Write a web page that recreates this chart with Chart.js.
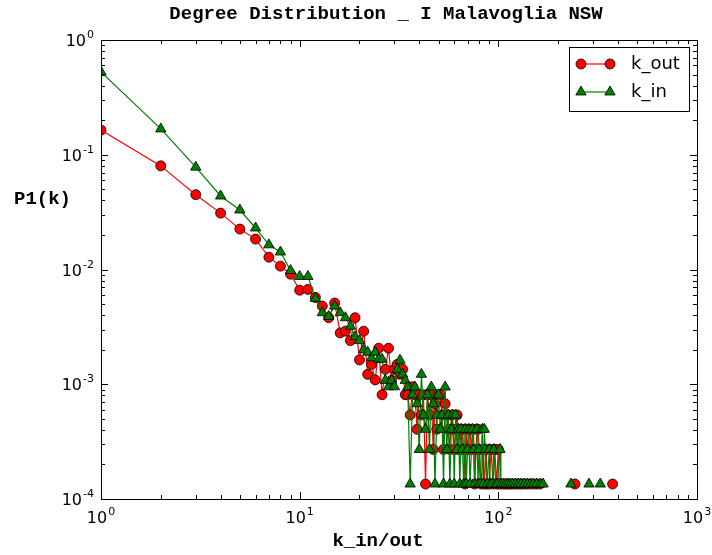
<!DOCTYPE html>
<html>
<head>
<meta charset="utf-8">
<script src="https://cdn.jsdelivr.net/npm/chart.js@4.4.1/dist/chart.umd.min.js"></script>
<style>
  html, body { margin: 0; padding: 0; background: #fff; }
  canvas { display: block; }
</style>
</head>
<body>
<canvas id="degChart" width="712" height="555"></canvas>
<script>
// degree k and P1(k) for out-degree (red circles)
const kOut = [1, 2, 3, 4, 5, 6, 7, 8, 9, 10, 11, 12, 13, 14, 15, 16, 17, 18, 19, 20,
    21, 22, 23, 24, 25, 26, 27, 28, 29, 30, 31, 32, 33, 34, 35, 36, 37, 38, 39, 40,
    41, 42, 43, 44, 45, 46, 47, 48, 49, 50, 51, 52, 53, 54, 55, 56, 57, 58, 59, 60,
    61, 62, 63, 64, 65, 66, 67, 68, 69, 70, 72, 73, 75, 76, 77, 79, 80, 82, 84, 85,
    87, 88, 90, 92, 94, 96, 98, 100, 101, 104, 107, 110, 113, 116, 120, 124, 128, 132, 137, 142,
    148, 155, 162, 200, 243, 300, 376];
const pOut = [0.164, 0.080, 0.0449, 0.031, 0.0225, 0.0184, 0.0128, 0.0107, 0.0091, 0.0066,
    0.0067, 0.0057, 0.0048, 0.0038, 0.0051, 0.0028, 0.0029, 0.0024, 0.0038, 0.00163,
    0.0029, 0.00122, 0.00149, 0.00109, 0.00206, 0.00081, 0.00135, 0.00206, 0.00108, 0.00135,
    0.00149, 0.00122, 0.00135, 0.00081, 0.00081, 0.00054, 0.00095, 0.00081, 0.000405, 0.00081,
    0.00054, 0.00081, 0.000135, 0.00081, 0.00054, 0.00081, 0.00027, 0.000676, 0.000405, 0.00081,
    0.00081, 0.00054, 0.00027, 0.000676, 0.00054, 0.000405, 0.00027, 0.00054, 0.000405, 0.00027,
    0.000405, 0.00054, 0.00027, 0.000405, 0.00027, 0.000405, 0.00027, 0.000135, 0.000405, 0.00027,
    0.000405, 0.00027, 0.000405, 0.000135, 0.00027, 0.000405, 0.00027, 0.000135, 0.00027, 0.000135,
    0.00027, 0.000135, 0.000135, 0.00027, 0.000135, 0.00027, 0.000135, 0.00027, 0.000135, 0.000135,
    0.000135, 0.000135, 0.000135, 0.000135, 0.000135, 0.000135, 0.000135, 0.000135, 0.000135, 0.000135,
    0.000135, 0.000135, 0.000135, null, 0.000135, null, 0.000135];

// in-degree (green triangles)
const kIn = [1, 2, 3, 4, 5, 6, 7, 8, 9, 10, 11, 12, 13, 14, 15, 16, 17, 18, 19, 20,
    21, 22, 23, 24, 25, 26, 27, 28, 29, 30, 31, 32, 33, 34, 35, 36, 37, 38, 39, 40,
    41, 42, 43, 44, 45, 46, 47, 48, 49, 50, 51, 52, 53, 54, 55, 56, 57, 58, 59, 60,
    61, 62, 63, 64, 65, 66, 67, 68, 69, 70, 71, 72, 74, 75, 76, 78, 79, 80, 81, 83,
    84, 85, 86, 88, 90, 91, 93, 95, 97, 99, 102, 103, 106, 109, 112, 115, 118, 122, 126, 130,
    135, 140, 145, 150, 156, 163, 168, 200, 232, 260, 286, 305, 326];
const pIn = [0.526, 0.168, 0.078, 0.0437, 0.033, 0.023, 0.0164, 0.0142, 0.0098, 0.0087,
    0.0087, 0.0056, 0.0042, 0.0039, 0.0048, 0.0042, 0.0038, 0.0032, 0.0026, 0.0024,
    0.0020, 0.0019, 0.0017, 0.0019, 0.00165, 0.00165, 0.00108, 0.00095, 0.00108, 0.00095,
    0.00135, 0.00162, 0.00122, 0.00108, 0.000946, 0.000135, 0.00081, 0.000946, 0.000676, 0.00027,
    0.00122, 0.00054, 0.000405, 0.00081, 0.00027, 0.000946, 0.000676, 0.000135, 0.00054, 0.00081,
    0.000405, 0.00054, 0.000135, 0.000946, 0.00027, 0.00054, 0.000135, 0.000405, 0.00054, 0.000135,
    0.00054, 0.00027, 0.000405, 0.000135, 0.000405, 0.00027, 0.000135, 0.000405, 0.000135, 0.00027,
    0.000405, 0.000135, 0.000405, 0.00027, 0.000135, 0.000405, 0.000135, 0.00027, 0.000135, 0.000405,
    0.000135, 0.000405, 0.00027, 0.000135, 0.00027, 0.000135, 0.000135, 0.00027, 0.000135, 0.000135,
    0.00027, 0.000135, 0.000135, 0.000135, 0.000135, 0.000135, 0.000135, 0.000135, 0.000135, 0.000135,
    0.000135, 0.000135, 0.000135, 0.000135, 0.000135, 0.000135, 0.000135, null, 0.000135, null,
    0.000135, null, 0.000135];

const xTicks = [1, 10, 100, 1000];
const yTicks = [0.0001, 0.001, 0.01, 0.1, 1];

function toPoints(ks, ps) {
    return ks.map((k, i) => ({ x: k, y: ps[i] }));
}

const RED = '#ff0000';
const GREEN = '#008000';
const MONO = '"Liberation Mono", "DejaVu Sans Mono", monospace';
const SANS = '"DejaVu Sans", sans-serif';

// "10" plus a raised exponent, like matplotlib's log labels
function drawPow(ctx, v, x, y, align) {
    const e = String(Math.round(Math.log10(v)));
    ctx.font = '16px ' + SANS;
    const wb = ctx.measureText('10').width;
    ctx.font = '11px ' + SANS;
    const we = ctx.measureText(e).width;
    const total = wb + we + 1;
    const x0 = align === 'center' ? x - total / 2 : x - total;
    ctx.textAlign = 'left';
    ctx.textBaseline = 'alphabetic';
    ctx.font = '16px ' + SANS;
    ctx.fillText('10', x0, y);
    ctx.font = '11px ' + SANS;
    ctx.fillText(e, x0 + wb + 1, y - 8);
}

// frame, inward ticks, texts and legend in matplotlib style
const decor = {
    id: 'decor',
    afterDatasetsDraw(chart) {
        const ctx = chart.ctx;
        const a = chart.chartArea;
        const xs = chart.scales.x, ys = chart.scales.y;
        ctx.save();
        ctx.strokeStyle = '#000';
        ctx.lineWidth = 1;
        ctx.strokeRect(Math.round(a.left) + 0.5, Math.round(a.top) + 0.5,
            Math.round(a.right - a.left), Math.round(a.bottom - a.top));

        ctx.beginPath();
        for (let d = 1; d < 1000; d *= 10) {
            for (let m = 1; m < 10; m++) {
                const px = Math.round(xs.getPixelForValue(d * m)) + 0.5;
                const len = m === 1 ? 7 : 4;
                ctx.moveTo(px, a.bottom); ctx.lineTo(px, a.bottom - len);
                ctx.moveTo(px, a.top); ctx.lineTo(px, a.top + len);
            }
        }
        for (let d = 0.0001; d < 1; d *= 10) {
            for (let m = 1; m < 10; m++) {
                const py = Math.round(ys.getPixelForValue(d * m)) + 0.5;
                const len = m === 1 ? 7 : 4;
                ctx.moveTo(a.left, py); ctx.lineTo(a.left + len, py);
                ctx.moveTo(a.right, py); ctx.lineTo(a.right - len, py);
            }
        }
        ctx.stroke();

        // tick labels
        ctx.fillStyle = '#000';
        xTicks.forEach(v => drawPow(ctx, v, xs.getPixelForValue(v), a.bottom + 24, 'center'));
        yTicks.forEach(v => drawPow(ctx, v, a.left - 7, ys.getPixelForValue(v) + 6, 'right'));

        // titles
        ctx.font = 'bold 19px ' + MONO;
        ctx.textAlign = 'center';
        ctx.textBaseline = 'middle';
        ctx.fillText('Degree Distribution _ I Malavoglia NSW', 386, 14);
        ctx.fillText('k_in/out', 378, 541);
        ctx.textAlign = 'left';
        ctx.fillText('P1(k)', 14, 199);

        // legend
        const lx = 569.5, ly = 47.5, lw = 120, lh = 64;
        ctx.fillStyle = '#fff';
        ctx.fillRect(lx, ly, lw, lh);
        ctx.strokeStyle = '#000';
        ctx.strokeRect(lx, ly, lw, lh);
        const rows = [
            { label: 'k_out', color: RED, shape: 'circle', r: 5, y: 64 },
            { label: 'k_in', color: GREEN, shape: 'triangle', r: 6, y: 92 }
        ];
        rows.forEach(row => {
            ctx.strokeStyle = row.color;
            ctx.lineWidth = 1.2;
            ctx.beginPath();
            ctx.moveTo(581, row.y); ctx.lineTo(610, row.y);
            ctx.stroke();
            [581, 610].forEach(x => {
                ctx.fillStyle = row.color;
                ctx.strokeStyle = '#000';
                ctx.lineWidth = 0.8;
                Chart.helpers.drawPoint(ctx, {
                    pointStyle: row.shape, radius: row.r, rotation: 0, borderWidth: 0.8
                }, x, row.y);
            });
            ctx.fillStyle = '#000';
            ctx.font = '18px ' + SANS;
            ctx.textAlign = 'left';
            ctx.textBaseline = 'middle';
            ctx.fillText(row.label, 631, row.y);
        });
        ctx.restore();
    }
};

const ctx = document.getElementById('degChart').getContext('2d');
new Chart(ctx, {
    type: 'line',
    data: {
        datasets: [
            {
                label: 'k_out',
                data: toPoints(kOut, pOut),
                borderColor: RED,
                backgroundColor: RED,
                borderWidth: 1.2,
                pointStyle: 'circle',
                pointRadius: 5,
                pointBackgroundColor: RED,
                pointBorderColor: '#000',
                pointBorderWidth: 0.8,
                tension: 0,
                clip: 0,
                order: 1
            },
            {
                label: 'k_in',
                data: toPoints(kIn, pIn),
                borderColor: GREEN,
                backgroundColor: GREEN,
                borderWidth: 1.2,
                pointStyle: 'triangle',
                pointRadius: 6,
                pointBackgroundColor: GREEN,
                pointBorderColor: '#000',
                pointBorderWidth: 0.8,
                tension: 0,
                clip: 0,
                order: 0
            }
        ]
    },
    options: {
        responsive: false,
        animation: false,
        devicePixelRatio: 1,
        layout: { padding: { left: 101, top: 40, right: 15, bottom: 56 } },
        plugins: {
            legend: { display: false },
            title: { display: false },
            tooltip: { enabled: false }
        },
        scales: {
            x: { type: 'logarithmic', display: false, min: 1, max: 1000 },
            y: { type: 'logarithmic', display: false, min: 0.0001, max: 1 }
        }
    },
    plugins: [decor]
});
</script>
</body>
</html>
